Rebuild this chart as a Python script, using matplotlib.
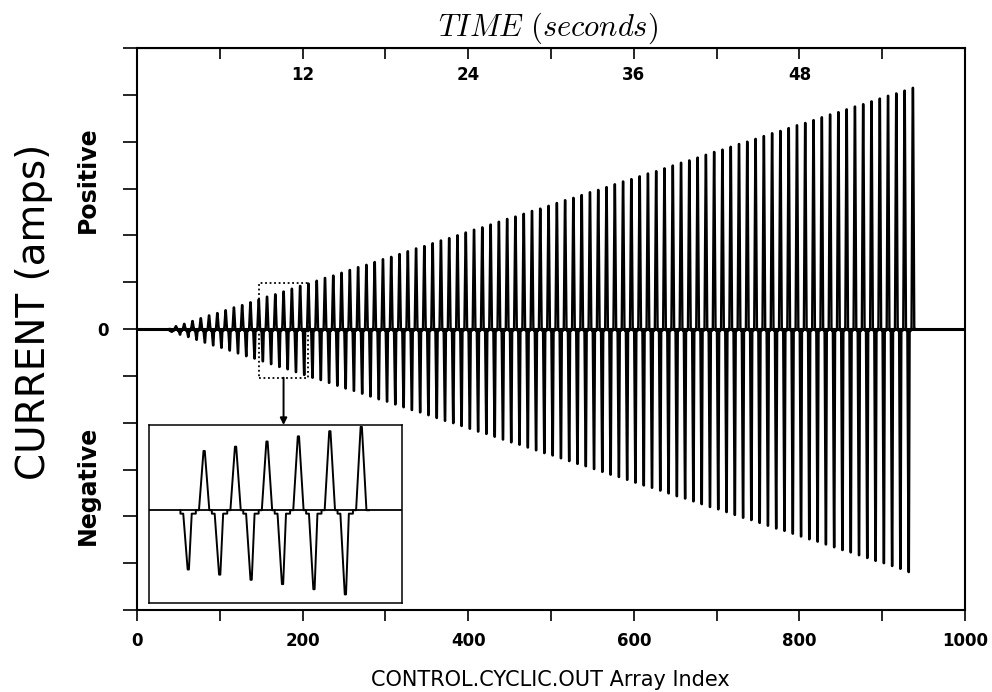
import matplotlib.pyplot as plt
from matplotlib.patches import Rectangle

plt.rcParams['font.family'] = 'DejaVu Sans'
plt.rcParams['mathtext.fontset'] = 'cm'

# -------------------------------
# DATA
# -------------------------------
first_index = 42     # array index of the first negative peak
cycle_len = 10       # array indices per cycle

# peak heights of the positive pulses (amps, one per cycle)
pos_amp = [0.06, 0.11, 0.17, 0.23, 0.29, 0.34, 0.40, 0.46, 0.51, 0.57,
           0.63, 0.69, 0.74, 0.80, 0.86, 0.92, 0.97, 1.03, 1.09, 1.14,
           1.20, 1.26, 1.32, 1.37, 1.43, 1.49, 1.54, 1.60, 1.66, 1.72,
           1.77, 1.83, 1.89, 1.94, 2.00, 2.06, 2.12, 2.17, 2.23, 2.29,
           2.35, 2.40, 2.46, 2.52, 2.57, 2.63, 2.69, 2.75, 2.80, 2.86,
           2.92, 2.97, 3.03, 3.09, 3.15, 3.20, 3.26, 3.32, 3.37, 3.43,
           3.49, 3.55, 3.60, 3.66, 3.72, 3.78, 3.83, 3.89, 3.95, 4.00,
           4.06, 4.12, 4.18, 4.23, 4.29, 4.35, 4.40, 4.46, 4.52, 4.58,
           4.63, 4.69, 4.75, 4.80, 4.86, 4.92, 4.98, 5.03, 5.09, 5.15]

# depth of the negative pulses (amps, one per cycle)
neg_amp = [0.06, 0.12, 0.17, 0.23, 0.29, 0.35, 0.40, 0.46, 0.52, 0.58,
           0.63, 0.69, 0.75, 0.81, 0.86, 0.92, 0.98, 1.04, 1.09, 1.15,
           1.21, 1.27, 1.32, 1.38, 1.44, 1.50, 1.55, 1.61, 1.67, 1.73,
           1.78, 1.84, 1.90, 1.96, 2.01, 2.07, 2.13, 2.19, 2.24, 2.30,
           2.36, 2.42, 2.47, 2.53, 2.59, 2.65, 2.70, 2.76, 2.82, 2.88,
           2.93, 2.99, 3.05, 3.11, 3.16, 3.22, 3.28, 3.34, 3.39, 3.45,
           3.51, 3.57, 3.62, 3.68, 3.74, 3.80, 3.85, 3.91, 3.97, 4.03,
           4.08, 4.14, 4.20, 4.26, 4.31, 4.37, 4.43, 4.49, 4.54, 4.60,
           4.66, 4.72, 4.77, 4.83, 4.89, 4.95, 5.00, 5.06, 5.12, 5.19]

x_ticks = [0, 200, 400, 600, 800, 1000]
time_pos = [200, 400, 600, 800]
time_labels = ['12', '24', '36', '48']
zoom_cycles = [11, 12, 13, 14, 15, 16]   # cycles shown in the inset
zoom_box = (147, 207, -1.04, 0.98)       # x0, x1, y0, y1

# -------------------------------
# pulse shape (offset from negative peak)
# -------------------------------
shoulder = 0.04   # small step before/after each negative pulse (amps)
shape_dx = [-2.5, -2.5, -1.6, -0.2, 0.2, 1.1, 2.4, 2.4, 3.4, 4.85, 5.25, 6.7, 7.5]


def one_cycle(k):
    c = first_index + k * cycle_len
    an = neg_amp[k]
    ap = pos_amp[k]
    ys = [0, -shoulder, -shoulder, -an, -an, -shoulder, -shoulder, 0, 0,
          ap, ap, 0, 0]
    return [c + d for d in shape_dx], ys


wave_x, wave_y = [], []
for k in range(len(pos_amp)):
    xs, ys = one_cycle(k)
    wave_x += xs
    wave_y += ys

zx, zy = [], []
for k in zoom_cycles:
    xs, ys = one_cycle(k)
    zx += xs
    zy += ys

# -------------------------------
# MAIN PLOT
# -------------------------------
fig = plt.figure(figsize=(9.92, 6.92), dpi=100)
ax = fig.add_axes([0.1381, 0.1185, 0.8347, 0.8121])

ax.plot(wave_x, wave_y, color='black', lw=1.7)
ax.axhline(0, color='black', lw=2.2)

ax.set_xlim(0, 1000)
ax.set_ylim(-6, 6)
ax.set_xticks(x_ticks)
ax.set_xticks(range(0, 1001, 100), minor=True)
ax.set_xticklabels([str(t) for t in x_ticks], fontweight='bold')
ax.tick_params(axis='x', which='both', direction='out', length=8, width=1.2,
               labelsize=12, pad=8)
ax.set_yticks(range(-6, 7))
ax.set_yticklabels(['0' if t == 0 else '' for t in range(-6, 7)], fontweight='bold')
ax.tick_params(axis='y', direction='out', length=10, width=1.2, labelsize=12, pad=10)
for s in ax.spines.values():
    s.set_linewidth(1.5)

# top ticks (time axis)
top = ax.secondary_xaxis('top')
top.set_xticks(list(range(0, 1001, 100)), labels=[''] * 11)
top.tick_params(direction='in', length=8, width=1.2)
for t, lab in zip(time_pos, time_labels):
    ax.text(t, 5.42, lab, ha='center', va='center', fontsize=12, fontweight='bold')

# dotted zoom box + arrow
x0, x1, y0, y1 = zoom_box
ax.add_patch(Rectangle((x0, y0), x1 - x0, y1 - y0, fill=False, color='black',
                       lw=1.3, ls=(0, (1, 1.5))))
ax.annotate('', xy=((x0 + x1) / 2, -2.05), xytext=((x0 + x1) / 2, y0),
            arrowprops=dict(arrowstyle='-|>', color='black', lw=1.4,
                            mutation_scale=10, shrinkA=0, shrinkB=0))

# -------------------------------
# INSET
# -------------------------------
axin = fig.add_axes([0.1502, 0.1286, 0.255, 0.257])
axin.plot(zx, zy, color='black', lw=1.4)
axin.axhline(0, color='black', lw=1.3)
axin.set_xlim(139.5, 220)
axin.set_ylim(-1.08, 0.99)
axin.set_xticks([])
axin.set_yticks([])
for s in axin.spines.values():
    s.set_linewidth(1.1)

# -------------------------------
# LABELS
# -------------------------------
fig.text(0.552, 0.9595, r'$\mathit{TIME\ (seconds)}$', ha='center', va='center', fontsize=22)
fig.text(0.5545, 0.0173, 'CONTROL.CYCLIC.OUT Array Index', ha='center', va='center', fontsize=15)
fig.text(0.034, 0.55, 'CURRENT (amps)', rotation=90, ha='center', va='center', fontsize=28)
fig.text(0.089, 1 - 180 / 692, 'Positive', rotation=90, ha='center', va='center',
         fontsize=17, fontweight='bold')
fig.text(0.089, 1 - 485 / 692, 'Negative', rotation=90, ha='center', va='center',
         fontsize=17, fontweight='bold')

fig.savefig('out.png', dpi=100)
